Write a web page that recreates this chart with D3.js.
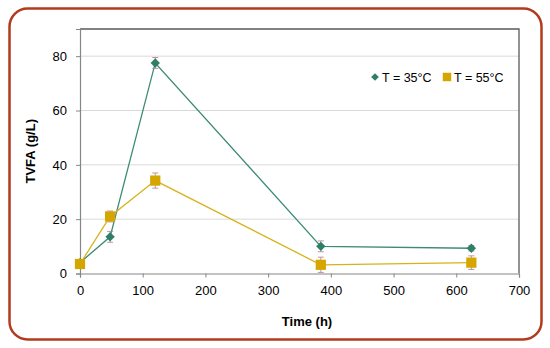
<!DOCTYPE html>
<html>
<head>
<meta charset="utf-8">
<script src="https://cdn.jsdelivr.net/npm/d3@7"></script>
<style>
  body { margin: 0; background: #fff; }
  svg text { font-family: "Liberation Sans", Arial, sans-serif; }
</style>
</head>
<body>
<div id="chart"></div>
<script>
// data
const timeH = [0, 48, 120, 384, 624];
const tvfa35 = [4, 13.5, 77.5, 10, 9.3];
const err35 = [1, 2, 2, 2, 1];
const tvfa55 = [3.5, 21, 34.2, 3.2, 4];
const err55 = [1.5, 2, 2.8, 2.8, 2.5];
const xTicks = [0, 100, 200, 300, 400, 500, 600, 700];
const yTicks = [0, 20, 40, 60, 80];

const width = 550, height = 348;
const margin = { top: 29, left: 80, right: 31, bottom: 74.5 };

const svg = d3.select("#chart").append("svg")
    .attr("width", width)
    .attr("height", height);

// outer rounded frame
svg.append("rect")
    .attr("x", 9.5).attr("y", 8.5)
    .attr("width", 532).attr("height", 331)
    .attr("rx", 18)
    .attr("fill", "#fff")
    .attr("stroke", "#b23b1e")
    .attr("stroke-width", 2.5);

const x = d3.scaleLinear().domain([0, 700]).range([margin.left, width - margin.right]);
const y = d3.scaleLinear().domain([0, 90]).range([height - margin.bottom, margin.top]);

// gridlines
svg.append("g").selectAll("line")
    .data(yTicks.slice(1))
    .enter().append("line")
    .attr("x1", x(0)).attr("x2", x(700))
    .attr("y1", d => y(d)).attr("y2", d => y(d))
    .attr("stroke", "#d9d9d9")
    .attr("stroke-width", 1);

// top + right frame of plot area
svg.append("path")
    .attr("d", "M" + x(0) + "," + y(90) + "H" + x(700) + "V" + y(0))
    .attr("fill", "none")
    .attr("stroke", "#595959")
    .attr("stroke-width", 1.3);

// axes
const xAxis = d3.axisBottom(x).tickValues(xTicks).tickSize(4).tickPadding(8);
const yAxis = d3.axisLeft(y).tickValues(yTicks).tickSize(4).tickPadding(9);

const gx = svg.append("g")
    .attr("transform", "translate(0," + y(0) + ")")
    .call(xAxis);
const gy = svg.append("g")
    .attr("transform", "translate(" + x(0) + ",0)")
    .call(yAxis);

[gx, gy].forEach(g => {
  g.select(".domain").attr("stroke", "#868686").attr("stroke-width", 1.2);
  g.selectAll(".tick line").attr("stroke", "#868686");
  g.selectAll(".tick text").attr("fill", "#000").style("font-size", "13px");
});

// series (diamond = square turned 45deg)
const series = [
  { name: "T = 35°C", vals: tvfa35, errs: err35, color: "#2f7f68", line: "#3c8a77", rot: 45, size: 44, legSize: 30 },
  { name: "T = 55°C", vals: tvfa55, errs: err55, color: "#d6a600", line: "#d8b21a", rot: 0, size: 105, legSize: 72 }
];

const line = d3.line()
    .x(d => x(d[0]))
    .y(d => y(d[1]));

series.forEach(s => {
  const pts = timeH.map((t, i) => [t, s.vals[i], s.errs[i]]);
  svg.append("path")
      .datum(pts)
      .attr("d", line)
      .attr("fill", "none")
      .attr("stroke", s.line)
      .attr("stroke-width", 1.3);
});

series.forEach(s => {
  const pts = timeH.map((t, i) => [t, s.vals[i], s.errs[i]]);
  const g = svg.append("g");
  // error bars
  g.selectAll("path.err")
      .data(pts)
      .enter().append("path")
      .attr("class", "err")
      .attr("d", d => {
        const cx = x(d[0]), y1 = y(d[1] - d[2]), y2 = y(d[1] + d[2]);
        return "M" + cx + "," + y1 + "V" + y2 +
               "M" + (cx - 3) + "," + y1 + "H" + (cx + 3) +
               "M" + (cx - 3) + "," + y2 + "H" + (cx + 3);
      })
      .attr("stroke", "#b07a8a")
      .attr("stroke-width", 0.8)
      .attr("fill", "none");
  g.selectAll("path.mk")
      .data(pts)
      .enter().append("path")
      .attr("class", "mk")
      .attr("transform", d => "translate(" + x(d[0]) + "," + y(d[1]) + ") rotate(" + s.rot + ")")
      .attr("d", d3.symbol().type(d3.symbolSquare).size(s.size))
      .attr("fill", s.color);
});

// legend
const legend = svg.append("g");
const lx = [375, 447];
series.forEach((s, i) => {
  legend.append("path")
      .attr("transform", "translate(" + lx[i] + ",77) rotate(" + s.rot + ")")
      .attr("d", d3.symbol().type(d3.symbolSquare).size(s.legSize))
      .attr("fill", s.color);
  legend.append("text")
      .attr("x", lx[i] + 7)
      .attr("y", 81.5)
      .style("font-size", "12.5px")
      .text(s.name);
});

// axis titles
svg.append("text")
    .attr("transform", "translate(35," + ((y(0) + y(90)) / 2) + ") rotate(-90)")
    .attr("text-anchor", "middle")
    .style("font-size", "13px")
    .style("font-weight", "bold")
    .text("TVFA (g/L)");

svg.append("text")
    .attr("x", 307)
    .attr("y", 326)
    .attr("text-anchor", "middle")
    .style("font-size", "13px")
    .style("font-weight", "bold")
    .text("Time (h)");
</script>
</body>
</html>
